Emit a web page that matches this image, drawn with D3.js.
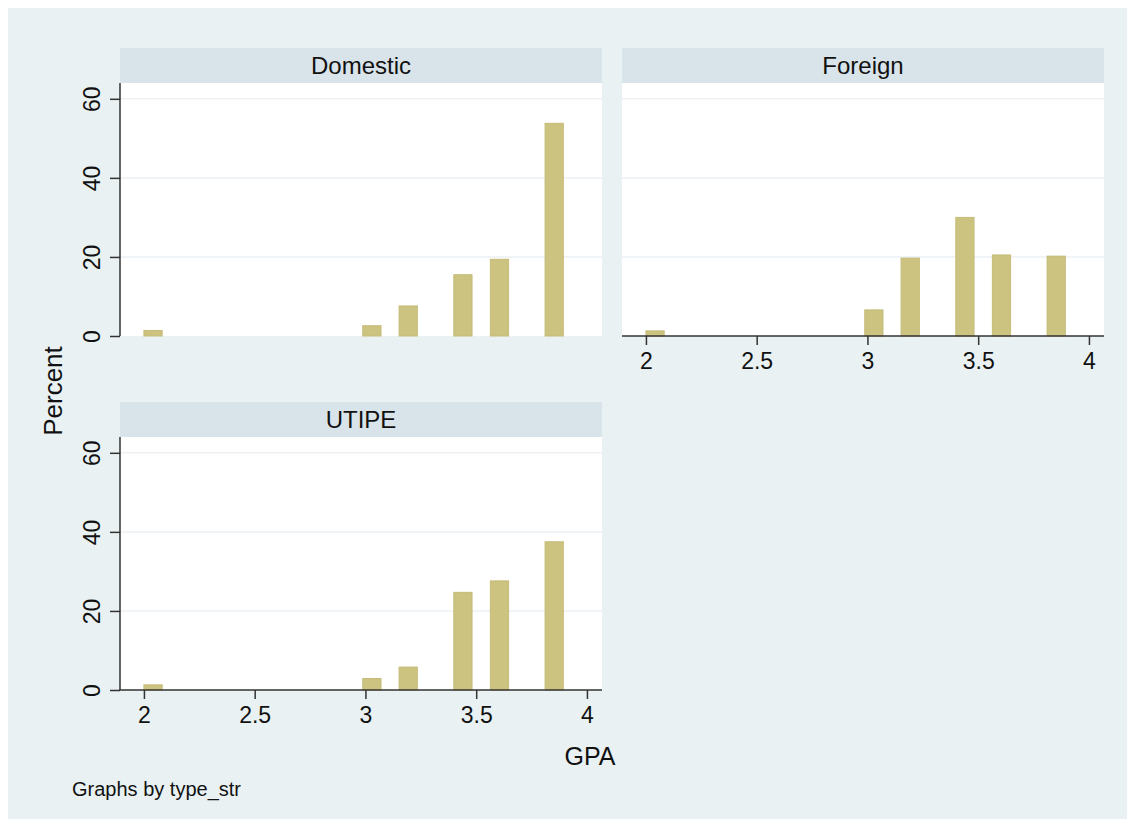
<!DOCTYPE html>
<html>
<head>
<meta charset="utf-8">
<script src="https://cdn.jsdelivr.net/npm/d3@7"></script>
<style>
  html, body { margin: 0; padding: 0; background: #ffffff; }
  svg { display: block; font-family: "Liberation Sans", Arial, Helvetica, sans-serif; }
</style>
</head>
<body>
<svg id="chart" width="1135" height="827"></svg>
<script>
// Panels of the by() histogram
const panelNames = ["Domestic", "Foreign", "UTIPE"];

// Lower edge of each non-empty GPA bin, and the common bin width
const binLo = [2.000, 2.988, 3.152, 3.399, 3.564, 3.811];
const binWidth = 0.0823;

// Percent of students in each bin, per panel
const domesticPct = [1.4, 2.6, 7.6, 15.5, 19.4, 53.8];
const foreignPct  = [1.3, 6.6, 19.7, 30.0, 20.5, 20.2];
const utipePct    = [1.3, 2.9, 5.8, 24.7, 27.6, 37.5];

const xTicks = [2, 2.5, 3, 3.5, 4];
const yTicks = [0, 20, 40, 60];

const panelValues = [domesticPct, foreignPct, utipePct];

const svg = d3.select("#chart");

// page background with a thin white border
svg.append("rect")
  .attr("x", 8).attr("y", 8)
  .attr("width", 1119).attr("height", 811)
  .attr("fill", "#e9f1f3");

const panelW = 482, plotH = 253, headH = 35;
const layout = [
  { left: 120, top: 48,  showY: true,  showX: false },
  { left: 622, top: 48,  showY: false, showX: true  },
  { left: 120, top: 402, showY: true,  showX: true  }
];

const x = d3.scaleLinear().domain([1.892, 4.068]).range([0, panelW]);
const y = d3.scaleLinear().domain([0, 64]).range([plotH, 0]);

panelNames.forEach((name, i) => {
  const L = layout[i];
  const g = svg.append("g").attr("transform", `translate(${L.left},${L.top})`);

  // strip header
  g.append("rect")
    .attr("x", 0).attr("y", 0).attr("width", panelW).attr("height", headH)
    .attr("fill", "#d9e4ea");
  g.append("text")
    .attr("x", panelW / 2).attr("y", headH / 2 + 8.5)
    .attr("text-anchor", "middle")
    .attr("font-size", 24)
    .attr("fill", "#111")
    .text(name);

  const p = g.append("g").attr("transform", `translate(0,${headH})`);

  // plot region
  p.append("rect")
    .attr("x", 0).attr("y", 0).attr("width", panelW).attr("height", plotH)
    .attr("fill", "#ffffff");

  // horizontal grid
  p.selectAll("line.grid")
    .data(yTicks.filter(t => t > 0))
    .enter().append("line")
    .attr("class", "grid")
    .attr("x1", 0).attr("x2", panelW)
    .attr("y1", d => y(d)).attr("y2", d => y(d))
    .attr("stroke", "#edf1f3")
    .attr("stroke-width", 1.5);

  // bars
  const vals = panelValues[i];
  p.selectAll("rect.bar")
    .data(binLo.map((lo, k) => ({ lo, v: vals[k] })))
    .enter().append("rect")
    .attr("class", "bar")
    .attr("x", d => x(d.lo))
    .attr("width", d => x(d.lo + binWidth) - x(d.lo))
    .attr("y", d => y(d.v))
    .attr("height", d => y(0) - y(d.v))
    .attr("fill", "#cdc381")
    .attr("stroke", "#c5bb78")
    .attr("stroke-width", 1);

  // y axis
  if (L.showY) {
    const ya = p.append("g").call(
      d3.axisLeft(y).tickValues(yTicks).tickSize(10).tickPadding(0).tickFormat(d3.format("d"))
    );
    ya.select(".domain").remove();
    ya.selectAll(".tick line").attr("stroke", "#333").attr("stroke-width", 1.5);
    ya.selectAll(".tick text")
      .attr("font-size", 23)
      .attr("fill", "#111")
      .attr("text-anchor", "middle")
      .attr("dy", 0)
      .attr("x", 0).attr("y", 0)
      .attr("transform", "translate(-20,0) rotate(-90)");
    p.append("line")
      .attr("x1", 0).attr("x2", 0).attr("y1", 0).attr("y2", plotH)
      .attr("stroke", "#333").attr("stroke-width", 1.5);
  }

  // x axis
  if (L.showX) {
    const xa = p.append("g").attr("transform", `translate(0,${plotH})`).call(
      d3.axisBottom(x).tickValues(xTicks).tickSize(9).tickPadding(8).tickFormat(d => String(d))
    );
    xa.select(".domain").remove();
    xa.selectAll(".tick line").attr("stroke", "#333").attr("stroke-width", 1.5);
    xa.selectAll(".tick text").attr("font-size", 23).attr("fill", "#111");
    p.append("line")
      .attr("x1", L.showY ? -1 : 0).attr("x2", panelW).attr("y1", plotH).attr("y2", plotH)
      .attr("stroke", "#333").attr("stroke-width", 1.5);
  }
});

// axis titles and note
svg.append("text")
  .attr("transform", "translate(62,391) rotate(-90)")
  .attr("text-anchor", "middle")
  .attr("font-size", 26)
  .attr("fill", "#111")
  .text("Percent");

svg.append("text")
  .attr("x", 590).attr("y", 765)
  .attr("text-anchor", "middle")
  .attr("font-size", 25)
  .attr("fill", "#111")
  .text("GPA");

svg.append("text")
  .attr("x", 72).attr("y", 796)
  .attr("font-size", 20)
  .attr("fill", "#111")
  .text("Graphs by type_str");
</script>
</body>
</html>
